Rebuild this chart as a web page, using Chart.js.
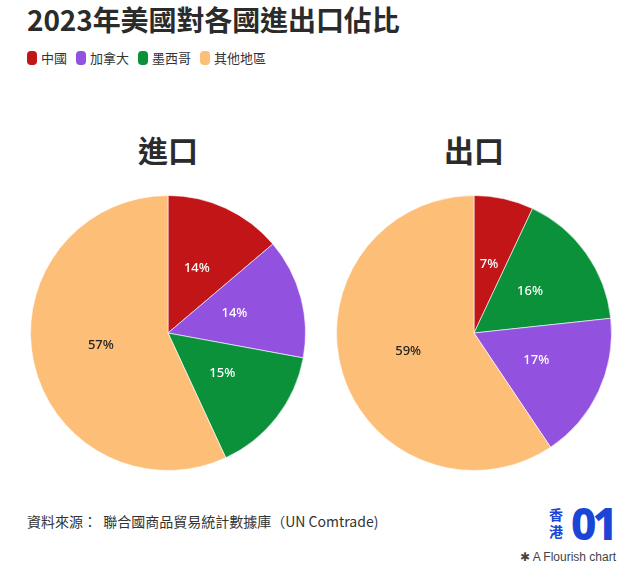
<!DOCTYPE html>
<html>
<head>
<meta charset="utf-8">
<script src="https://cdn.jsdelivr.net/npm/chart.js@4.4.1/dist/chart.umd.min.js"></script>
<style>
  html, body { margin: 0; padding: 0; background: #fff; }
  body { width: 642px; height: 568px; position: relative; overflow: hidden;
         font-family: "Noto Sans CJK TC", "Noto Sans", sans-serif; color: #333; }
  #title { position: absolute; left: 27px; top: -1px; font-size: 28px; font-weight: 700; color: #2b2b2b; white-space: nowrap; letter-spacing: -0.1px; }
  #legend { position: absolute; left: 27px; top: 48px; font-size: 13px; color: #333; white-space: nowrap; display: flex; align-items: center; }
  .item { display: flex; align-items: center; margin-right: 9px; }
  .sw { width: 10px; height: 14px; border-radius: 4px; margin-right: 4px; }
  .ptitle { position: absolute; top: 127px; width: 200px; text-align: center; font-size: 30px; font-weight: 700; color: #2b2b2b; }
  canvas { position: absolute; }
  #src { position: absolute; left: 27px; top: 511px; font-size: 14px; color: #333; white-space: nowrap; }
  #logo { position: absolute; left: 549px; top: 503px; color: #1b45d6; font-weight: 700; }
  #logo .hk { position: absolute; left: 0; top: 3px; font-size: 14px; line-height: 17px; width: 16px; }
  #logo .num { position: absolute; left: 22px; top: -10px; font-size: 44px; font-family: "Noto Sans", sans-serif; letter-spacing: -4px; font-weight: 800; }
  #flourish { position: absolute; left: 520px; top: 550px; font-size: 12px; color: #444; font-family: "Liberation Sans", Arial, sans-serif; white-space: nowrap; }
</style>
</head>
<body>
<div id="title">2023年美國對各國進出口佔比</div>
<div id="legend"></div>
<div class="ptitle" style="left:68px">進口</div>
<div class="ptitle" style="left:374px">出口</div>
<canvas id="c1" width="276" height="276" style="left:30px;top:195px;width:276px;height:276px"></canvas>
<canvas id="c2" width="276" height="276" style="left:336px;top:195px;width:276px;height:276px"></canvas>
<div id="src">資料來源：&nbsp;&nbsp;聯合國商品貿易統計數據庫（UN Comtrade)</div>
<div id="logo"><div class="hk">香<br>港</div><div class="num">01</div></div>
<div id="flourish">&#10033; A Flourish chart</div>
<script>
// ---- data ----
const legendLabels = ["中國", "加拿大", "墨西哥", "其他地區"];
const legendColors = ["#c11517", "#9351e0", "#0a9139", "#fdbe78"];

const importLabels = ["中國", "加拿大", "墨西哥", "其他地區"];
const importValues = [13.8, 14.1, 15.2, 56.9];
const importColors = ["#c11517", "#9351e0", "#0a9139", "#fdbe78"];

const exportLabels = ["中國", "墨西哥", "加拿大", "其他地區"];
const exportValues = [7.0, 16.3, 17.3, 59.4];
const exportColors = ["#c11517", "#0a9139", "#9351e0", "#fdbe78"];

// legend
const lg = document.getElementById('legend');
legendLabels.forEach((l, i) => {
  const d = document.createElement('div'); d.className = 'item';
  d.innerHTML = '<span class="sw" style="background:' + legendColors[i] + '"></span><span>' + l + '</span>';
  lg.appendChild(d);
});

const labelPlugin = {
  id: 'pctLabels',
  afterDatasetsDraw(chart) {
    const ctx = chart.ctx;
    const ds = chart.data.datasets[0];
    const total = ds.data.reduce((a, b) => a + b, 0);
    chart.getDatasetMeta(0).data.forEach((arc, i) => {
      const p = arc.tooltipPosition();
      const pct = Math.round(ds.data[i] / total * 100) + '%';
      ctx.save();
      ctx.font = '500 13px "Noto Sans", sans-serif';
      ctx.textAlign = 'center';
      ctx.textBaseline = 'middle';
      ctx.fillStyle = ds.backgroundColor[i] === '#fdbe78' ? '#222' : '#fff';
      ctx.fillText(pct, p.x, p.y - 2);
      ctx.restore();
    });
  }
};

function makePie(id, labels, values, colors) {
  new Chart(document.getElementById(id), {
    type: 'pie',
    data: { labels: labels, datasets: [{ data: values, backgroundColor: colors, borderColor: 'rgba(255,255,255,0.6)', borderWidth: 1 }] },
    options: {
      responsive: false, animation: false,
      layout: { padding: 0 },
      plugins: { legend: { display: false }, tooltip: { enabled: false } }
    },
    plugins: [labelPlugin]
  });
}
makePie('c1', importLabels, importValues, importColors);
makePie('c2', exportLabels, exportValues, exportColors);
</script>
</body>
</html>
